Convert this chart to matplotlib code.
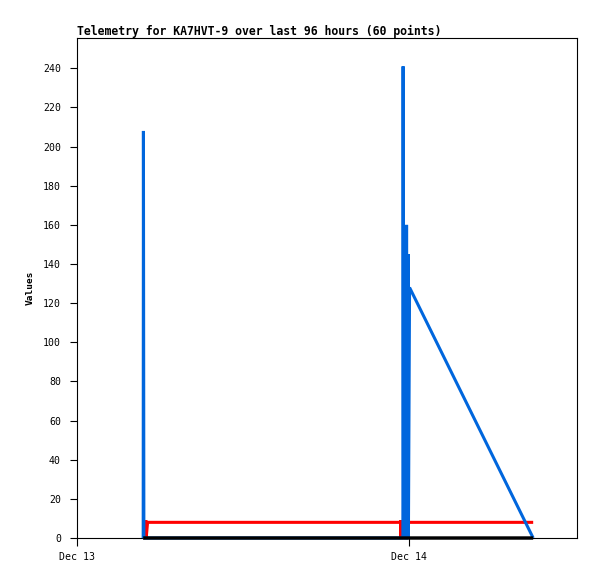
import matplotlib
matplotlib.use("Agg")
import matplotlib.pyplot as plt
import matplotlib.dates as mdates
import pandas as pd

title = "Telemetry for KA7HVT-9 over last 96 hours (60 points)"
ylabel = "Values"

times = [
    "2023-12-13 04:47", "2023-12-13 04:48", "2023-12-13 04:50", "2023-12-13 04:59",
    "2023-12-13 05:00", "2023-12-13 05:06", "2023-12-13 23:22", "2023-12-13 23:23",
    "2023-12-13 23:24", "2023-12-13 23:26", "2023-12-13 23:33", "2023-12-13 23:34",
    "2023-12-13 23:36", "2023-12-13 23:48", "2023-12-13 23:49", "2023-12-13 23:50",
    "2023-12-13 23:55", "2023-12-13 23:56", "2023-12-13 23:57", "2023-12-14 00:02",
    "2023-12-14 08:58",
]
blue_vals = [0, 208, 0, 0, 0, 0, 0, 0, 0, 0, 0, 241, 0, 0, 160, 0, 0, 145, 0, 128, 0]
red_vals = [0, 0, 0, 9, 0, 8, 8, 9, 0, 8, 8, 8, 8, 8, 8, 8, 8, 8, 8, 8, 8]
black_vals = [0] * 21

x_start = "2023-12-13 00:00"
x_end = "2023-12-14 12:08"
x_ticks = ["2023-12-13", "2023-12-14"]
y_ticks = list(range(0, 241, 20))

t = pd.to_datetime(times)

fig = plt.figure(figsize=(5.97, 5.79), dpi=100)
ax = fig.add_axes([77 / 597, 1 - 538 / 579, 500 / 597, 500 / 579])

lw = 2.2
style = dict(solid_joinstyle="bevel", solid_capstyle="butt", clip_on=False, snap=False)
ax.plot(t, red_vals, color="#ff0000", lw=lw, zorder=2, **style)
ax.plot(t, blue_vals, color="#0066dd", lw=lw, zorder=3, **style)
ax.plot(t, black_vals, color="#000000", lw=lw + 0.25, zorder=4, **style)

ax.set_xlim(pd.Timestamp(x_start), pd.Timestamp(x_end))
ax.set_ylim(0, 255.5)
ax.set_yticks(y_ticks)
ax.set_xticks(pd.to_datetime(x_ticks))
ax.xaxis.set_major_formatter(mdates.DateFormatter("%b %d"))

mono = "DejaVu Sans Mono"
for lab in ax.get_xticklabels() + ax.get_yticklabels():
    lab.set_family(mono)
    lab.set_fontsize(7.1)

ax.tick_params(axis="y", length=5, width=0.8, pad=6.5, direction="out")
ax.tick_params(axis="x", length=5.5, width=0.8, pad=4.5, direction="out")
for s in ax.spines.values():
    s.set_linewidth(0.8)

ax.set_ylabel(ylabel, family=mono, fontsize=6.8, fontweight="bold", labelpad=6)
ax.set_title(title, loc="left", family=mono, fontsize=8.3, fontweight="bold", pad=2.5)

fig.savefig("out.png", dpi=100, facecolor="white")
